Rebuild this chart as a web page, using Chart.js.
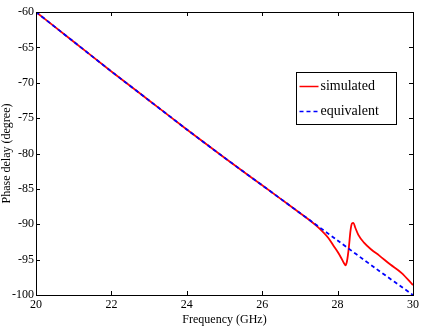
<!DOCTYPE html>
<html>
<head>
<meta charset="utf-8">
<script src="https://cdn.jsdelivr.net/npm/chart.js@4"></script>
<style>
  html, body { margin: 0; padding: 0; background: #fff; }
  #wrap { width: 422px; height: 327px; }
</style>
</head>
<body>
<div id="wrap"><canvas id="chart"></canvas></div>
<script>
// simulated phase delay (GHz, degree)
const simFreq = [20, 21, 22, 23, 24, 25, 26, 26.5, 27, 27.25, 27.5, 27.75, 27.9, 28.0, 28.1, 28.17, 28.21, 28.25, 28.3, 28.34, 28.38, 28.42, 28.47, 28.55, 28.7, 28.9, 29.1, 29.4, 29.7, 30]
const simPhase = [-60, -64.2, -68.4, -72.5, -76.6, -80.6, -84.5, -86.45, -88.4, -89.4, -90.5, -91.9, -93.1, -93.9, -94.8, -95.5, -95.8, -95.2, -93.2, -91.0, -89.9, -89.8, -90.5, -91.5, -92.6, -93.6, -94.4, -95.7, -96.9, -98.6]
// equivalent circuit
const eqFreq = [20, 21, 22, 23, 24, 25, 26, 27, 28, 29, 30]
const eqPhase = [-60, -64.2, -68.4, -72.5, -76.6, -80.6, -84.5, -88.4, -92.3, -96.2, -100]

const xTicks = [20, 22, 24, 26, 28, 30]
const yTicks = [-100, -95, -90, -85, -80, -75, -70, -65, -60]

const font = { family: "'Liberation Serif', 'Times New Roman', serif", size: 12 }

const toPoints = (xs, ys) => xs.map((x, i) => ({ x: x, y: ys[i] }))

// box, inward ticks on all four sides, legend inside the plot
const frame = {
    id: 'frame',
    afterDraw(chart) {
        const ctx = chart.ctx
        const a = chart.chartArea
        const xs = chart.scales.x
        const ys = chart.scales.y
        ctx.save()
        ctx.strokeStyle = '#000'
        ctx.lineWidth = 1
        ctx.strokeRect(a.left + 0.5, a.top + 0.5, a.right - a.left, a.bottom - a.top)
        ctx.beginPath()
        xTicks.forEach(v => {
            const px = Math.round(xs.getPixelForValue(v)) + 0.5
            ctx.moveTo(px, a.bottom); ctx.lineTo(px, a.bottom - 4)
            ctx.moveTo(px, a.top); ctx.lineTo(px, a.top + 4)
        })
        yTicks.forEach(v => {
            const py = Math.round(ys.getPixelForValue(v)) + 0.5
            ctx.moveTo(a.left, py); ctx.lineTo(a.left + 4, py)
            ctx.moveTo(a.right, py); ctx.lineTo(a.right - 4, py)
        })
        ctx.stroke()

        // legend
        const bx = 296.5, by = 72.5, bw = 100, bh = 52
        ctx.fillStyle = '#fff'
        ctx.fillRect(bx, by, bw, bh)
        ctx.strokeRect(bx, by, bw, bh)
        ctx.font = '14px ' + font.family
        ctx.textBaseline = 'middle'
        const items = chart.data.datasets
        items.forEach((ds, i) => {
            const yy = by + 14 + i * 25
            ctx.beginPath()
            ctx.strokeStyle = ds.borderColor
            ctx.lineWidth = 1.5
            ctx.setLineDash(ds.borderDash || [])
            ctx.moveTo(bx + 3, yy); ctx.lineTo(bx + 22, yy)
            ctx.stroke()
            ctx.setLineDash([])
            ctx.fillStyle = '#000'
            ctx.fillText(ds.label, bx + 24, yy)
        })
        ctx.restore()
    }
}

new Chart(document.getElementById('chart'), {
    type: 'line',
    data: {
        datasets: [
            {
                label: 'simulated',
                data: toPoints(simFreq, simPhase),
                borderColor: '#ff0000',
                borderWidth: 1.8,
                pointRadius: 0,
                order: 2,
                cubicInterpolationMode: 'monotone'
            },
            {
                label: 'equivalent',
                data: toPoints(eqFreq, eqPhase),
                borderColor: '#0000ff',
                borderWidth: 1.8,
                borderDash: [4, 3],
                pointRadius: 0,
                order: 1,
                tension: 0.3
            }
        ]
    },
    options: {
        responsive: true,
        maintainAspectRatio: false,
        animation: false,
        layout: { padding: { top: 12, right: 7, left: 0, bottom: 0 } },
        plugins: { legend: { display: false }, tooltip: { enabled: false } },
        scales: {
            x: {
                type: 'linear',
                min: 20, max: 30,
                afterBuildTicks: s => { s.ticks = xTicks.map(v => ({ value: v })) },
                afterFit: s => { s.height = 32 },
                grid: { display: false, drawTicks: false },
                border: { display: false },
                ticks: { color: '#000', font: font, padding: 3, maxRotation: 0 },
                title: { display: true, text: 'Frequency (GHz)', color: '#000', font: { family: font.family, size: 12 }, padding: { top: 0, bottom: 0 } }
            },
            y: {
                min: -100, max: -60,
                afterBuildTicks: s => { s.ticks = yTicks.map(v => ({ value: v })) },
                afterFit: s => { s.width = 36 },
                grid: { display: false, drawTicks: false },
                border: { display: false },
                ticks: { color: '#000', font: font, padding: 2 },
                title: { display: true, text: 'Phase delay (degree)', color: '#000', font: { family: font.family, size: 12 }, padding: { top: 0, bottom: 0 } }
            }
        }
    },
    plugins: [frame]
})
</script>
</body>
</html>
